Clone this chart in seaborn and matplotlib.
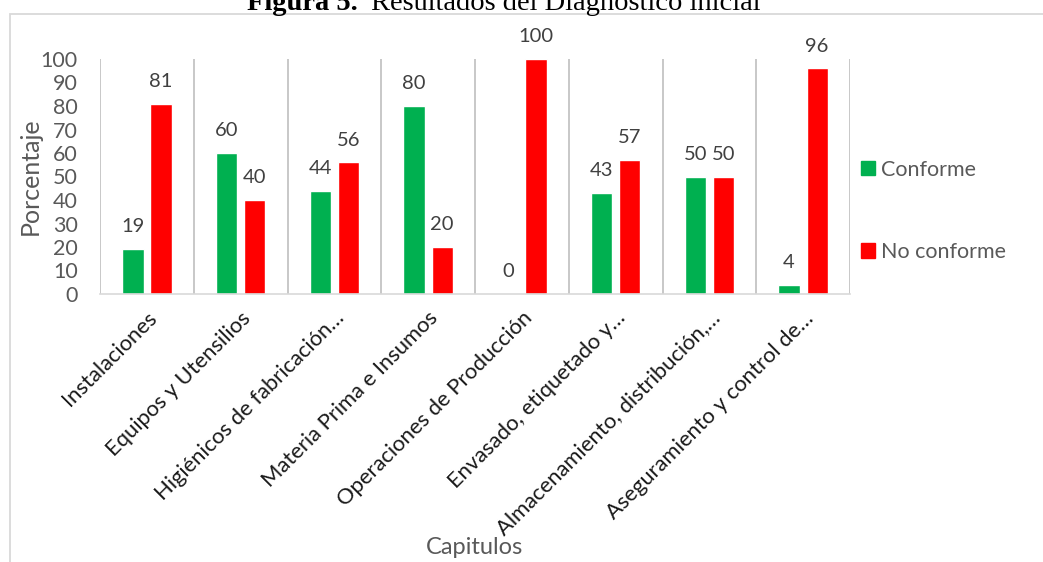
import matplotlib
matplotlib.use("Agg")
import matplotlib.pyplot as plt
import matplotlib.patches as mpatches
import numpy as np
import pandas as pd
import seaborn as sns

# Chapter names and compliance percentages
categories = [
    "Instalaciones",
    "Equipos y Utensilios",
    "Higiénicos de fabricación…",
    "Materia Prima e Insumos",
    "Operaciones de Producción",
    "Envasado, etiquetado y…",
    "Almacenamiento, distribución,…",
    "Aseguramiento y control de…",
]
conforme = [19, 60, 44, 80, 0, 43, 50, 4]
no_conforme = [81, 40, 56, 20, 100, 57, 50, 96]
series_names = ["Conforme", "No conforme"]
y_ticks = list(range(0, 101, 10))

df = pd.DataFrame({
    "Capitulos": categories * 2,
    "Porcentaje": conforme + no_conforme,
    "Serie": [series_names[0]] * len(categories) + [series_names[1]] * len(categories),
})

sns.set_theme(style="white")
plt.rcParams["font.family"] = ["Lato", "DejaVu Sans"]

GREEN = "#00B050"
RED = "#FF0000"
GRAY_TXT = "#595959"

W, H = 1043, 562
fig = plt.figure(figsize=(W / 100, H / 100), dpi=100)
ax = fig.add_axes([100 / W, 1 - 294 / H, 750 / W, 235 / H])

sns.barplot(
    data=df, x="Capitulos", y="Porcentaje", hue="Serie",
    palette=[GREEN, RED], width=0.6, gap=0.24, ax=ax, legend=False,
    saturation=1,
)

# value labels above each bar
for cont in ax.containers:
    ax.bar_label(cont, labels=[f"{v:g}" for v in cont.datavalues],
                 padding=10, fontsize=14.5, color="#404040")

ax.set_ylim(0, 100)
ax.set_xlim(-0.5, len(categories) - 0.5)
ax.set_yticks(y_ticks)
ax.tick_params(axis="y", length=0, pad=16, labelsize=15.5, labelcolor=GRAY_TXT)

# category boundaries: vertical gridlines plus short ticks below the axis
ax.set_xticks(np.arange(-0.5, len(categories), 1.0), minor=True)
ax.tick_params(axis="x", which="minor", length=6, color="#d9d9d9", width=1.2)
ax.tick_params(axis="x", which="major", length=0, pad=10)
ax.grid(axis="x", which="minor", color="#bfbfbf", linewidth=1.2)
ax.grid(axis="y", visible=False)
ax.set_xticks(range(len(categories)))
ax.set_xticklabels(categories, rotation=45, ha="right", rotation_mode="anchor",
                   fontsize=15.8, color="#1a1a1a")

for side in ["left", "right", "top"]:
    ax.spines[side].set_visible(False)
ax.spines["bottom"].set_color("#d9d9d9")
ax.spines["bottom"].set_linewidth(1.2)

ax.set_xlabel("Capitulos", fontsize=17, color=GRAY_TXT, labelpad=0)
ax.xaxis.set_label_coords(0.499, 1 - (548 - 59) / 235)
ax.xaxis.label.set_verticalalignment("center")
ax.set_ylabel("Porcentaje", fontsize=18, color=GRAY_TXT)
ax.yaxis.set_label_coords((30 - 100) / 750, 0.5)
ax.yaxis.label.set_verticalalignment("center")

# legend on the right
handles = [mpatches.Patch(color=GREEN, label=series_names[0]),
           mpatches.Patch(color=RED, label=series_names[1])]
leg = ax.legend(handles=handles, loc="upper left",
                bbox_to_anchor=(852 / W, 1 - 151 / H), bbox_transform=fig.transFigure,
                frameon=False, fontsize=15.5, handlelength=0.65, handleheight=0.65,
                handletextpad=0.3, labelspacing=2.9, borderaxespad=0)
for t in leg.get_texts():
    t.set_color(GRAY_TXT)

# chart area outline
fig.patches.append(mpatches.Rectangle(
    (9.5 / W, -0.1), 1.2, 1 - 13.5 / H + 0.1, transform=fig.transFigure,
    fill=False, edgecolor="#d9d9d9", linewidth=1.3, zorder=0))

# caption above the chart
renderer = fig.canvas.get_renderer()
t1 = fig.text(247 / W, 1 - 10 / H, "Figura 5.", fontsize=20.5, fontweight="bold",
              family="Liberation Serif", va="baseline", ha="left", color="black")
bb = t1.get_window_extent(renderer)
fig.text(bb.x1 / W + 13 / W, 1 - 10 / H, "Resultados del Diagnóstico inicial",
         fontsize=20.5, family="Liberation Serif", va="baseline", ha="left",
         color="black")

fig.savefig("out.png", dpi=100)
